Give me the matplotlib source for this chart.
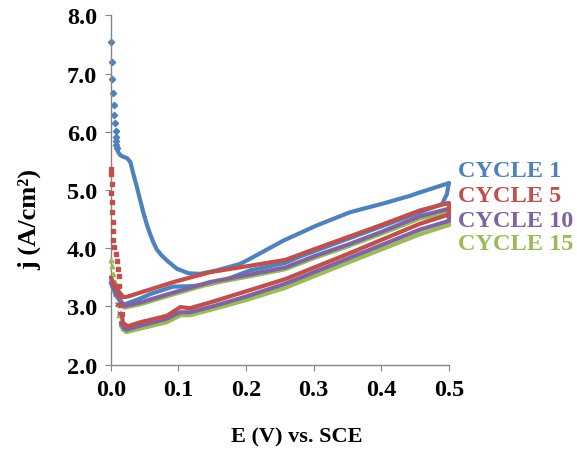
import matplotlib
matplotlib.use("Agg")
import matplotlib.pyplot as plt
from matplotlib.ticker import FormatStrFormatter

# ---- data ----
# Cycle 1 (blue)
c1_spike_E = [0.000, 0.0015, 0.0024, 0.0040, 0.0044, 0.0050, 0.0060, 0.0070, 0.0074, 0.0080, 0.0083, 0.0093]
c1_spike_j = [7.55, 7.20, 6.91, 6.67, 6.46, 6.29, 6.15, 6.02, 5.92, 5.85, 5.78, 5.72]
c1_fwd_E = [0.0093, 0.011, 0.014, 0.019, 0.024, 0.029, 0.034, 0.038, 0.043, 0.048, 0.053, 0.058,
            0.063, 0.068, 0.075, 0.083, 0.0975, 0.115, 0.132, 0.157, 0.191, 0.206, 0.255, 0.304, 0.354,
            0.403, 0.442, 0.457, 0.500]
c1_fwd_j = [5.72, 5.65, 5.60, 5.57, 5.55, 5.48, 5.25, 5.08, 4.85, 4.62, 4.42, 4.25,
            4.10, 3.98, 3.88, 3.79, 3.65, 3.57, 3.56, 3.62, 3.73, 3.82, 4.13, 4.39, 4.62,
            4.77, 4.90, 4.96, 5.12]
c1_ret_E = [0.500, 0.497, 0.490, 0.457, 0.350, 0.280, 0.258, 0.235, 0.206, 0.170, 0.145, 0.120,
            0.092, 0.060, 0.040, 0.021]
c1_ret_j = [5.12, 4.93, 4.76, 4.62, 4.16, 3.86, 3.75, 3.69, 3.62, 3.46, 3.38, 3.35,
            3.34, 3.22, 3.12, 3.04]

# Cycle 5 (red)
c5_spike_E = [0.000, 0.0005, 0.0015, 0.0010, 0.0020, 0.0025, 0.0030, 0.0035, 0.0040, 0.0050,
              0.0070, 0.0090, 0.0110, 0.0115, 0.0125, 0.0140, 0.0140, 0.0160]
c5_spike_j = [5.36, 5.28, 5.10, 4.95, 4.80, 4.62, 4.45, 4.30, 4.15, 4.02,
              3.90, 3.78, 3.64, 3.52, 3.36, 3.19, 3.02, 2.87]
c5_fwd_E = [0.016, 0.018, 0.025, 0.044, 0.083, 0.095, 0.103, 0.117, 0.147, 0.200, 0.258,
            0.350, 0.457, 0.500]
c5_fwd_j = [2.87, 2.72, 2.66, 2.73, 2.84, 2.93, 2.99, 2.97, 3.07, 3.26, 3.47,
            3.90, 4.42, 4.58]
c5_ret_E = [0.500, 0.500, 0.457, 0.400, 0.350, 0.300, 0.258, 0.206, 0.147, 0.093, 0.044,
            0.025, 0.018, 0.008, 0.000]
c5_ret_j = [4.58, 4.78, 4.65, 4.40, 4.19, 3.98, 3.80, 3.70, 3.59, 3.42, 3.24,
            3.17, 3.16, 3.32, 3.50]

# Cycle 10 (purple)
c10_spike_E = [0.000, 0.003, 0.006, 0.009, 0.012, 0.015]
c10_spike_j = [3.45, 3.35, 3.22, 3.05, 2.88, 2.72]
c10_fwd_E = [0.015, 0.019, 0.023, 0.044, 0.083, 0.095, 0.103, 0.117, 0.147, 0.200, 0.258,
             0.350, 0.457, 0.500]
c10_fwd_j = [2.72, 2.63, 2.60, 2.67, 2.79, 2.86, 2.90, 2.90, 2.99, 3.17, 3.39,
             3.82, 4.32, 4.47]
c10_ret_E = [0.500, 0.500, 0.457, 0.400, 0.350, 0.300, 0.258, 0.206, 0.147, 0.093, 0.044,
             0.025, 0.020, 0.008, 0.000]
c10_ret_j = [4.47, 4.68, 4.55, 4.28, 4.06, 3.86, 3.67, 3.55, 3.42, 3.24, 3.07,
             3.02, 3.01, 3.20, 3.42]

# Cycle 15 (green)
c15_spike_E = [0.000, 0.002, 0.004, 0.006, 0.008, 0.010, 0.012, 0.015]
c15_spike_j = [3.80, 3.70, 3.55, 3.42, 3.25, 3.05, 2.85, 2.70]
c15_fwd_E = [0.015, 0.018, 0.023, 0.044, 0.083, 0.095, 0.103, 0.117, 0.147, 0.200, 0.258,
             0.350, 0.457, 0.500]
c15_fwd_j = [2.70, 2.60, 2.56, 2.62, 2.73, 2.80, 2.85, 2.85, 2.94, 3.11, 3.32,
             3.75, 4.24, 4.40]
c15_ret_E = [0.500, 0.500, 0.457, 0.400, 0.350, 0.300, 0.258, 0.206, 0.147, 0.093, 0.044,
             0.025, 0.020, 0.008, 0.000]
c15_ret_j = [4.40, 4.62, 4.51, 4.25, 4.03, 3.83, 3.64, 3.52, 3.39, 3.21, 3.04,
             2.99, 2.98, 3.18, 3.40]

labels = ["CYCLE 1", "CYCLE 5", "CYCLE 10", "CYCLE 15"]
x_ticks = [0.0, 0.1, 0.2, 0.3, 0.4, 0.5]
y_ticks = [2.0, 3.0, 4.0, 5.0, 6.0, 7.0, 8.0]

colors = ["#4F81BD", "#C0504D", "#8064A2", "#9BBB59"]
markers = ["D", "s", "x", "^"]
zorders = [2, 5, 4, 3]

series = [
    (c1_spike_E, c1_spike_j, c1_fwd_E, c1_fwd_j, c1_ret_E, c1_ret_j),
    (c5_spike_E, c5_spike_j, c5_fwd_E, c5_fwd_j, c5_ret_E, c5_ret_j),
    (c10_spike_E, c10_spike_j, c10_fwd_E, c10_fwd_j, c10_ret_E, c10_ret_j),
    (c15_spike_E, c15_spike_j, c15_fwd_E, c15_fwd_j, c15_ret_E, c15_ret_j),
]

plt.rcParams['font.family'] = ['Liberation Serif', 'DejaVu Serif']
plt.rcParams['font.weight'] = 'bold'

fig = plt.figure(figsize=(5.77, 4.52), dpi=100)
ax = fig.add_axes([0.192, 0.191, 0.586, 0.7725])

for (sE, sj, fE, fj, rE, rj), col, mk, zo in zip(series, colors, markers, zorders):
    ax.plot(sE, sj, linestyle="none", marker=mk, color=col, markersize=3.2,
            markeredgewidth=1.0, zorder=zo, clip_on=False)
    ax.plot(fE, fj, color=col, lw=3.0, solid_capstyle="round", solid_joinstyle="round",
            zorder=zo, clip_on=False)
    ax.plot(rE, rj, color=col, lw=3.0, solid_capstyle="round", solid_joinstyle="round",
            zorder=zo, clip_on=False)

ax.set_xlim(0.0, 0.5)
ax.set_ylim(2.0, 8.0)
ax.set_xticks(x_ticks)
ax.set_yticks(y_ticks)
ax.xaxis.set_major_formatter(FormatStrFormatter("%.1f"))
ax.yaxis.set_major_formatter(FormatStrFormatter("%.1f"))
for s in ["top", "right"]:
    ax.spines[s].set_visible(False)
for s in ["left", "bottom"]:
    ax.spines[s].set_color("#868686")
    ax.spines[s].set_linewidth(1.0)
ax.tick_params(axis="both", direction="out", length=4, color="#868686",
               labelsize=17.5, pad=6)
for lab in ax.get_xticklabels() + ax.get_yticklabels():
    lab.set_fontweight("bold")

fig.text(297 / 577, 1 - 437 / 452, "E (V) vs. SCE", ha="center", va="center",
         fontsize=16, fontweight="bold")
fig.text(30 / 577, 1 - 220 / 452, "j (A/cm²)", ha="center", va="center",
         rotation=90, fontsize=19, fontweight="bold")

label_y = [171.5, 197, 222, 245]
for lab, col, yy in zip(labels, colors, label_y):
    fig.text(458 / 577, 1 - yy / 452, lab, ha="left", va="center",
             color=col, fontsize=17.5, fontweight="bold")

fig.savefig("out.png", dpi=100)
